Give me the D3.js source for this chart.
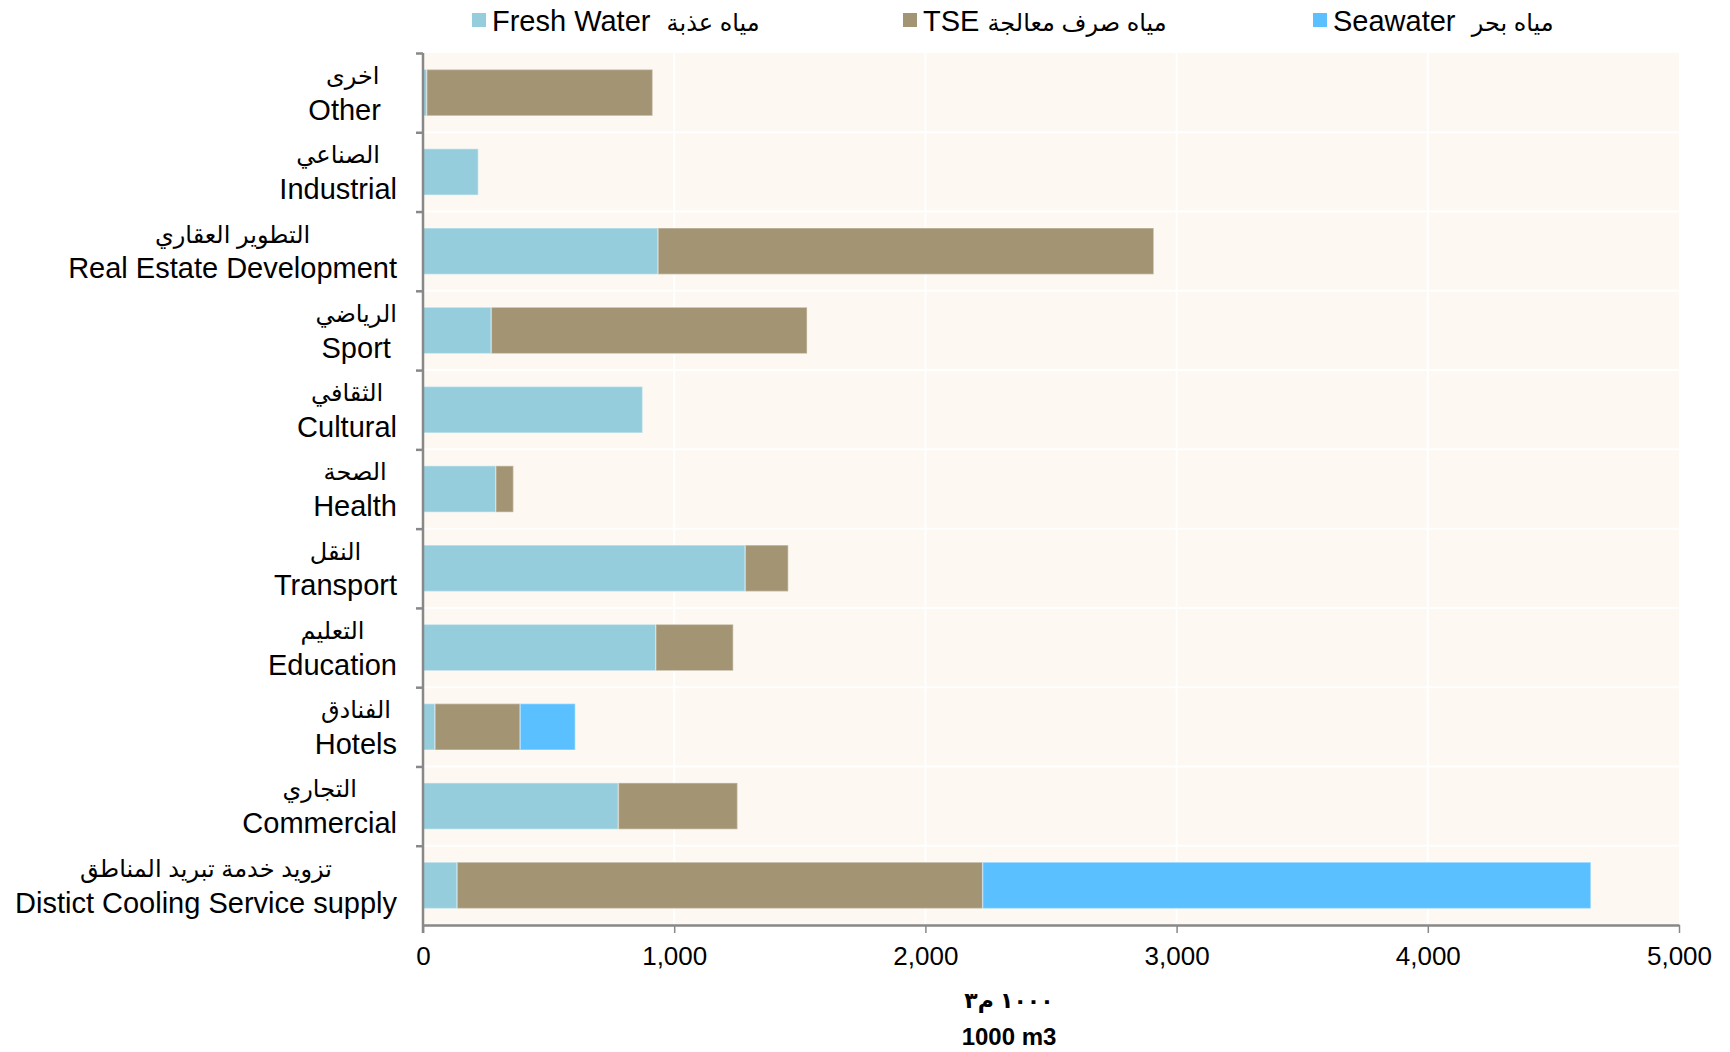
<!DOCTYPE html>
<html>
<head>
<meta charset="utf-8">
<script src="https://cdn.jsdelivr.net/npm/d3@7"></script>
<style>
  body { margin: 0; background: #fff; }
  text { font-family: "Liberation Sans", Arial, "DejaVu Sans", sans-serif; white-space: pre; }
</style>
</head>
<body>
<div id="chart"></div>
<script>
// data (top row first)
const categoriesEn = ["Other\u00a0\u00a0", "Industrial", "Real Estate Development", "Sport", "Cultural",
  "Health", "Transport", "Education", "Hotels", "Commercial", "Distict Cooling Service supply"];
const categoriesAr = ["اخرى", "الصناعي", "التطوير العقاري", "الرياضي", "الثقافي",
  "الصحة", "النقل", "التعليم", "الفنادق", "التجاري", "تزويد خدمة تبريد المناطق"];
const freshWater = [15, 220, 936, 272, 874, 290, 1283, 927, 48, 778, 136];
const tse = [899, 0, 1973, 1257, 0, 70, 171, 308, 339, 474, 2092];
const seawater = [0, 0, 0, 0, 0, 0, 0, 0, 219, 0, 2421];
const seriesEn = ["Fresh Water  ", "TSE ", "Seawater  "];
const seriesAr = ["مياه عذبة", "مياه صرف معالجة", "مياه بحر"];
const xTicks = [0, 1000, 2000, 3000, 4000, 5000];
const axisTitleAr = "١٠٠٠ م٣";
const axisTitleEn = "1000 m3";

const W = 1730, H = 1052;
const margin = { top: 53, right: 51, bottom: 127, left: 423 };
const width = W - margin.left - margin.right;
const height = H - margin.top - margin.bottom;

const colors = ["#95cddd", "#a39474", "#5bc0ff"];
const keys = ["fresh", "tse", "sea"];

const rows = categoriesEn.map(function (c, i) {
  return { cat: c, ar: categoriesAr[i], fresh: freshWater[i], tse: tse[i], sea: seawater[i] };
});
const stacked = d3.stack().keys(keys)(rows);

const svg = d3.select("#chart").append("svg")
  .attr("width", W).attr("height", H);
const g = svg.append("g").attr("transform", `translate(${margin.left},${margin.top})`);

const x = d3.scaleLinear().domain([0, 5000]).range([0, width]);
const y = d3.scaleBand().domain(categoriesEn).range([0, height])
  .paddingInner(0.415).paddingOuter(0.2075);
const yEdge = d3.scaleLinear().domain([0, categoriesEn.length]).range([0, height]);

// plot background
g.append("rect").attr("width", width).attr("height", height).attr("fill", "#fdf8f2");

// grid lines
g.append("g").selectAll("line").data(xTicks.slice(1, -1)).join("line")
  .attr("x1", d => x(d)).attr("x2", d => x(d))
  .attr("y1", 0).attr("y2", height)
  .attr("stroke", "#fff").attr("stroke-width", 2);
g.append("g").selectAll("line").data(d3.range(1, categoriesEn.length)).join("line")
  .attr("x1", 0).attr("x2", width)
  .attr("y1", d => yEdge(d)).attr("y2", d => yEdge(d))
  .attr("stroke", "#fff").attr("stroke-width", 2);

// bars
g.append("g").selectAll("g").data(stacked).join("g")
  .attr("fill", (d, i) => colors[i])
  .selectAll("rect").data(d => d.filter(s => s[1] > s[0])).join("rect")
  .attr("x", d => x(d[0]))
  .attr("y", d => y(d.data.cat))
  .attr("width", d => x(d[1]) - x(d[0]))
  .attr("height", y.bandwidth())
  .attr("stroke", "rgba(255,255,255,0.35)")
  .attr("stroke-width", 1.5);

// x axis
const xAxis = g.append("g").attr("transform", `translate(0,${height})`)
  .call(d3.axisBottom(x).tickValues(xTicks).tickFormat(d3.format(",")).tickSizeInner(8).tickSizeOuter(0).tickPadding(14));
xAxis.select(".domain").attr("stroke", "#888").attr("stroke-width", 2.5);
xAxis.selectAll(".tick line").attr("stroke", "#888").attr("stroke-width", 1.5);
xAxis.selectAll(".tick text").attr("font-size", 26).attr("fill", "#000")
  .style("font-family", '"Liberation Sans", Arial, sans-serif');

// y axis (ticks at category boundaries)
const yAxis = g.append("g")
  .call(d3.axisLeft(yEdge).tickValues(d3.range(0, categoriesEn.length)).tickFormat("").tickSizeInner(7).tickSizeOuter(0));
yAxis.select(".domain").attr("stroke", "#888").attr("stroke-width", 2.5)
  .attr("d", `M0,0V${height + 8}`);
yAxis.selectAll(".tick line").attr("stroke", "#888").attr("stroke-width", 2.5);

// category labels: two centered lines, block right-aligned
const labelRight = -26;
rows.forEach(function (r) {
  const cy = y(r.cat) + y.bandwidth() / 2;
  const lg = g.append("g");
  const ar = lg.append("text").attr("font-size", 24).attr("text-anchor", "middle")
    .attr("dy", "0.35em").attr("y", cy - 17).attr("fill", "#000").text(r.ar);
  const en = lg.append("text").attr("font-size", 29).attr("text-anchor", "middle")
    .attr("dy", "0.35em").attr("y", cy + 17).attr("fill", "#000").text(r.cat);
  const w = Math.max(ar.node().getComputedTextLength(), en.node().getComputedTextLength());
  ar.attr("x", labelRight - w / 2);
  en.attr("x", labelRight - w / 2);
});

// legend
const legendX = [472, 903, 1313];
const legend = svg.append("g");
seriesEn.forEach(function (name, i) {
  legend.append("rect").attr("x", legendX[i]).attr("y", 13).attr("width", 14).attr("height", 14)
    .attr("fill", colors[i]);
  const t = legend.append("text").attr("x", legendX[i] + 20).attr("y", 31)
    .attr("font-size", 29).attr("fill", "#000").attr("direction", "ltr");
  t.append("tspan").text(name);
  t.append("tspan").attr("font-size", 24).text(seriesAr[i]);
});

// axis titles
const titleX = 1009;
svg.append("text").attr("x", titleX).attr("y", 1008).attr("text-anchor", "middle")
  .attr("font-size", 22).attr("font-weight", "bold").text(axisTitleAr);
svg.append("text").attr("x", titleX).attr("y", 1045).attr("text-anchor", "middle")
  .attr("font-size", 24).attr("font-weight", "bold").text(axisTitleEn);
</script>
</body>
</html>
